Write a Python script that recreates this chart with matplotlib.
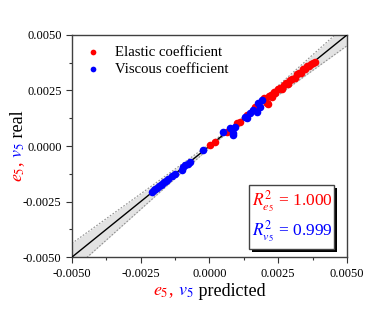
import numpy as np
import matplotlib
matplotlib.use("Agg")
import matplotlib.pyplot as plt
from matplotlib.patches import Rectangle
from matplotlib.ticker import MultipleLocator, FormatStrFormatter

plt.rcParams['font.family'] = ['Liberation Serif', 'DejaVu Serif']
plt.rcParams['mathtext.fontset'] = 'stix'
plt.rcParams['axes.unicode_minus'] = False

# Elastic coefficient (e5): predicted vs real
e_pred = [0.00002, 0.00020, 0.00062, 0.00099, 0.00110, 0.00135, 0.00165,
          0.00195, 0.00200, 0.00208, 0.00213, 0.00215, 0.00222, 0.00228,
          0.00235, 0.00240, 0.00248, 0.00255, 0.00262, 0.00270, 0.00278,
          0.00285, 0.00292, 0.00300, 0.00310, 0.00318, 0.00325, 0.00332,
          0.00340, 0.00348, 0.00355, 0.00362, 0.00370, 0.00378, 0.00384]
e_real = [0.00005, 0.00020, 0.00065, 0.00102, 0.00110, 0.00140, 0.00177,
          0.00205, 0.00215, 0.00192, 0.00190, 0.00225, 0.00230, 0.00222,
          0.00245, 0.00238, 0.00255, 0.00262, 0.00258, 0.00275, 0.00282,
          0.00280, 0.00298, 0.00302, 0.00306, 0.00322, 0.00330, 0.00328,
          0.00345, 0.00345, 0.00358, 0.00360, 0.00368, 0.00372, 0.00376]

# Viscous coefficient (v5): predicted vs real
v_pred = [-0.00210, -0.00203, -0.00197, -0.00190, -0.00185, -0.00178,
          -0.00172, -0.00165, -0.00158, -0.00150, -0.00137, -0.00125,
          -0.00101, -0.00095, -0.00089, -0.00078, -0.00071, -0.00024,
          0.00050, 0.00075, 0.00085, 0.00085, 0.00093, 0.00130, 0.00135,
          0.00147, 0.00160, 0.00172, 0.00177, 0.00184, 0.00190]
v_real = [-0.00206, -0.00200, -0.00193, -0.00188, -0.00180, -0.00176,
          -0.00170, -0.00162, -0.00158, -0.00148, -0.00135, -0.00128,
          -0.00106, -0.00095, -0.00086, -0.00080, -0.00070, -0.00018,
          0.00065, 0.00080, 0.00059, 0.00050, 0.00086, 0.00130, 0.00125,
          0.00150, 0.00160, 0.00155, 0.00192, 0.00177, 0.00207]

r2_e = "1.000"
r2_v = "0.999"

lim = (-0.005, 0.005)
ticks = [-0.005, -0.0025, 0.0, 0.0025, 0.005]

fig = plt.figure(figsize=(3.89, 3.09), dpi=100)
ax = fig.add_axes([0.185, 0.168, 0.707, 0.719])

# confidence band around y = x
xs = np.linspace(lim[0], lim[1], 200)
half = np.sqrt(0.00006**2 + (0.11 * (xs - 0.0006))**2)
ax.fill_between(xs, xs - half, xs + half, color='#e3e3e3', lw=0, zorder=1)
ax.plot(xs, xs + half, color='#909090', lw=0.8, ls=(0, (1.5, 1.5)), zorder=2)
ax.plot(xs, xs - half, color='#909090', lw=0.8, ls=(0, (1.5, 1.5)), zorder=2)
ax.plot(lim, lim, color='black', lw=1.0, zorder=3)

ax.scatter(e_pred, e_real, s=30, color='#ff0000', lw=0, zorder=4,
           label='Elastic coefficient')
ax.scatter(v_pred, v_real, s=30, color='#0000ff', lw=0, zorder=5,
           label='Viscous coefficient')

ax.set_xlim(lim)
ax.set_ylim(lim)
ax.set_xticks(ticks)
ax.set_yticks(ticks)
ax.xaxis.set_minor_locator(MultipleLocator(0.00125))
ax.yaxis.set_minor_locator(MultipleLocator(0.00125))
ax.xaxis.set_major_formatter(FormatStrFormatter('%.4f'))
ax.yaxis.set_major_formatter(FormatStrFormatter('%.4f'))
ax.tick_params(which='major', direction='out', length=4, width=0.8,
               labelsize=9, colors='#333333', labelcolor='black')
ax.tick_params(which='minor', direction='out', length=2.5, width=0.8,
               colors='#333333')
for s in ax.spines.values():
    s.set_color('#404040')
    s.set_linewidth(1.0)

leg = ax.legend(loc='upper left', frameon=False, fontsize=10.6,
                handletextpad=0.7, borderaxespad=0.3, labelspacing=0.3,
                handlelength=1.5, markerscale=0.75)

# R^2 box with shadow
shadow = Rectangle((0.656, 0.022), 0.309, 0.288, transform=ax.transAxes,
                   facecolor='black', edgecolor='none', zorder=6)
box = Rectangle((0.644, 0.036), 0.309, 0.288, transform=ax.transAxes,
                facecolor='white', edgecolor='#444444', lw=1.0, zorder=7)
ax.add_patch(shadow)
ax.add_patch(box)
ax.text(0.655, 0.25, r'$R^2_{e_5}$ = ' + r2_e, transform=ax.transAxes,
        color='#ff0000', fontsize=12.5, va='center', ha='left', zorder=8)
ax.text(0.655, 0.115, r'$R^2_{v_5}$ = ' + r2_v, transform=ax.transAxes,
        color='#0000ff', fontsize=12.5, va='center', ha='left', zorder=8)

# multi-coloured axis labels
fs = 13
parts_x = [(r'$e_5$,', '#ff0000'), (r' $v_5$', '#0000ff'), (' predicted', 'black')]
parts_y = [(r'$e_5$,', '#ff0000'), (r' $v_5$', '#0000ff'), (' real', 'black')]

fig.canvas.draw()
renderer = fig.canvas.get_renderer()

def measure(parts, rotation):
    total = 0
    for txt, c in parts:
        t = fig.text(0, 0, txt, fontsize=fs, rotation=rotation)
        bb = t.get_window_extent(renderer)
        total += bb.height if rotation else bb.width
        t.remove()
    return total

W = fig.bbox.width
H = fig.bbox.height
axbb = ax.get_window_extent(renderer)
cx = (axbb.x0 + axbb.x1) / 2
cy = (axbb.y0 + axbb.y1) / 2

tot = measure(parts_x, 0)
prev = fig.text((cx - tot / 2) / W, 14 / H, parts_x[0][0], color=parts_x[0][1],
                fontsize=fs, ha='left', va='baseline')
for txt, c in parts_x[1:]:
    prev = ax.annotate(txt, xy=(1, 0), xycoords=prev, color=c, fontsize=fs,
                       ha='left', va='bottom', annotation_clip=False)

tot = measure(parts_y, 90)
prev = fig.text(10 / W, (cy - tot / 2) / H, parts_y[0][0], color=parts_y[0][1],
                fontsize=fs, rotation=90, ha='left', va='bottom')
for txt, c in parts_y[1:]:
    prev = ax.annotate(txt, xy=(0, 1), xycoords=prev, color=c, fontsize=fs,
                       rotation=90, ha='left', va='bottom',
                       annotation_clip=False)

fig.savefig('out.png', dpi=100)
